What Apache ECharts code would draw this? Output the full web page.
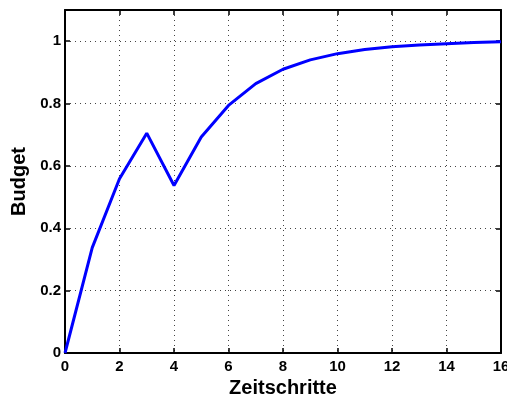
<!DOCTYPE html>
<html><head><meta charset="utf-8">
<script src="https://cdn.jsdelivr.net/npm/echarts@6/dist/echarts.min.js"></script>
<style>html,body{margin:0;padding:0;background:#fff}#c{width:507px;height:396px}</style>
</head><body><div id="c"></div>
<script>
const steps = [0,1,2,3,4,5,6,7,8,9,10,11,12,13,14,15,16];
const budget = [0,0.338,0.559,0.705,0.537,0.693,0.794,0.864,0.91,0.94,0.96,0.973,0.982,0.988,0.992,0.996,0.998];
const xTicks = [0,2,4,6,8,10,12,14,16];
const yTicks = [0,0.2,0.4,0.6,0.8,1];

const chart = echarts.init(document.getElementById('c'), null, {renderer:'canvas'});
const font = 'Liberation Sans, Arial, sans-serif';
const gridLine = {show:true, lineStyle:{color:'#444', type:[1,4], width:1}};
const axLine = {show:true, onZero:false, lineStyle:{color:'#000', width:2}};
const tick = {show:true, inside:true, length:5, lineStyle:{color:'#000', width:1.5}};
chart.setOption({
  animation:false,
  backgroundColor:'#fff',
  grid:{left:65, top:10, right:6, bottom:43, containLabel:false, outerBoundsMode:'none'},
  xAxis:[{
    type:'value', min:0, max:16, interval:2,
    axisLine:axLine, axisTick:tick, splitLine:gridLine,
    axisLabel:{color:'#000', fontFamily:font, fontWeight:'bold', fontSize:15, margin:6,
      formatter:v=>xTicks.includes(v)?String(v):''},
    name:'Zeitschritte', nameLocation:'middle', nameGap:23,
    nameTextStyle:{color:'#000', fontFamily:font, fontWeight:'bold', fontSize:20}
  },{
    type:'value', position:'top', min:0, max:16, interval:2,
    axisLine:axLine, axisTick:tick, splitLine:{show:false}, axisLabel:{show:false}
  }],
  yAxis:[{
    type:'value', min:0, max:1.1, interval:0.2,
    axisLine:axLine, axisTick:tick, splitLine:gridLine,
    axisLabel:{color:'#000', fontFamily:font, fontWeight:'bold', fontSize:15, margin:4,
      formatter:v=>{const t=yTicks.find(y=>Math.abs(y-v)<1e-9);return t===undefined?'':String(t);}},
    name:'Budget', nameLocation:'middle', nameGap:28,
    nameTextStyle:{color:'#000', fontFamily:font, fontWeight:'bold', fontSize:20}
  },{
    type:'value', position:'right', min:0, max:1.1, interval:0.2,
    axisLine:axLine, axisTick:tick, splitLine:{show:false}, axisLabel:{show:false}
  }],
  series:[{
    type:'line', data:steps.map((s,i)=>[s,budget[i]]),
    showSymbol:false, symbol:'none',
    lineStyle:{color:'#0000ff', width:3}, clip:false
  }]
});
</script></body></html>
